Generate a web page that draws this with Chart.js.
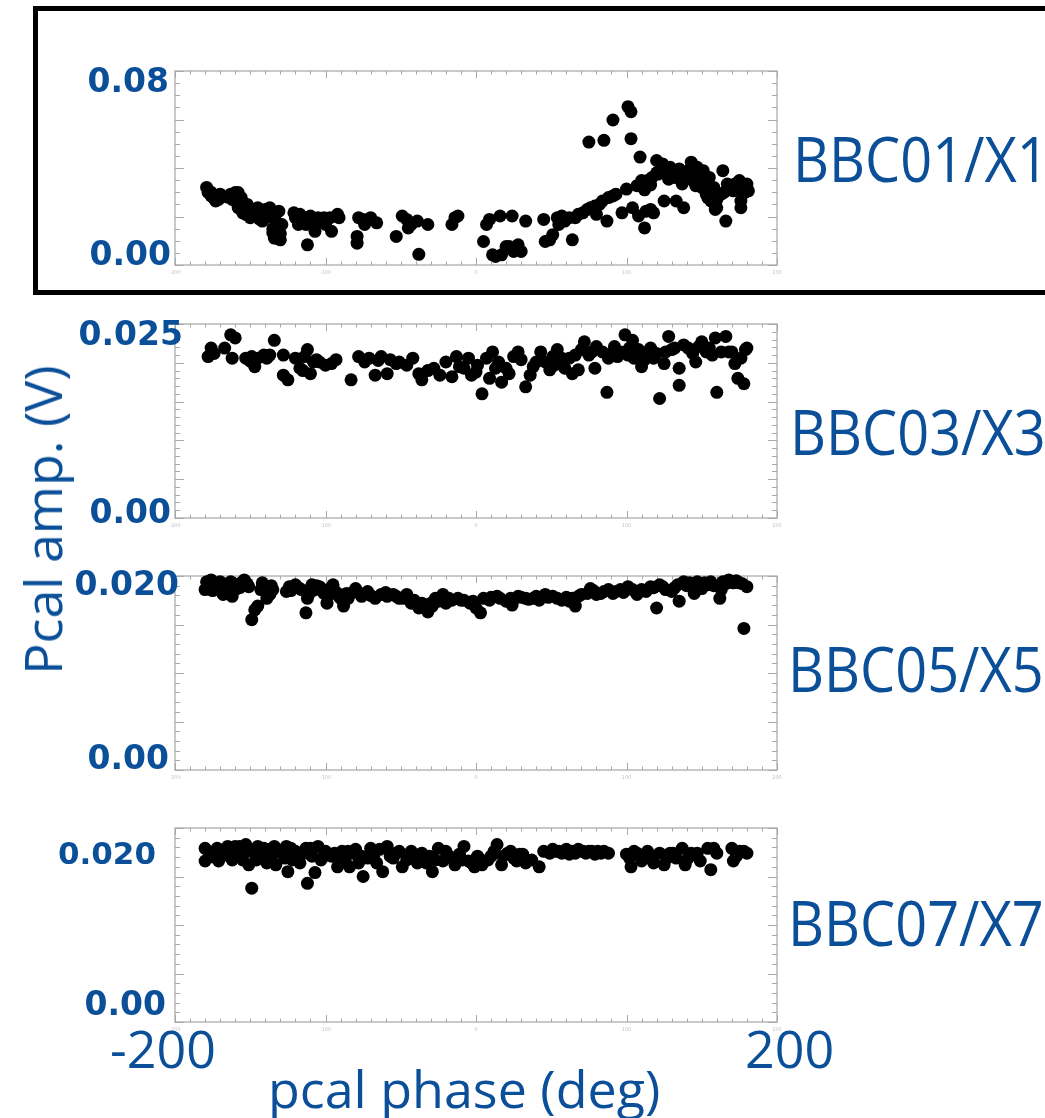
<!DOCTYPE html>
<html>
<head>
<meta charset="utf-8">
<script src="https://cdn.jsdelivr.net/npm/chart.js@4.4.0/dist/chart.umd.min.js"></script>
<style>
  body { margin: 0; background: #fff; }
  #page { position: relative; width: 1045px; height: 1118px; overflow: hidden; }
  .panel { position: absolute; left: 145px; }
  .lab { position: absolute; color: #0b4f99; font-family: "Open Sans", sans-serif; white-space: nowrap; line-height: 1; }
  .bbc { font-size: 62px; transform: scaleX(0.9); transform-origin: left center; }
  .ytk { position: absolute; color: #0b4f99; font-family: "DejaVu Sans", sans-serif; font-weight: bold; font-size: 33px; line-height: 1; text-align: right; width: 140px; }
  #frame { position: absolute; left: 33px; top: 6px; width: 1100px; height: 279px; border: 5px solid #000; }
</style>
</head>
<body>
<div id="page">
  <div id="frame"></div>

  <div class="panel" style="top:56px"><canvas id="c1" width="660" height="224"></canvas></div>
  <div class="panel" style="top:309px"><canvas id="c2" width="660" height="224"></canvas></div>
  <div class="panel" style="top:561px"><canvas id="c3" width="660" height="224"></canvas></div>
  <div class="panel" style="top:813px"><canvas id="c4" width="660" height="224"></canvas></div>

  <!-- big hand-placed axis labels -->
  <div class="ytk" style="left:29px; top:64px">0.08</div>
  <div class="ytk" style="left:31px; top:237px">0.00</div>
  <div class="ytk" style="left:43px; top:317px">0.025</div>
  <div class="ytk" style="left:31px; top:495px">0.00</div>
  <div class="ytk" style="left:39px; top:567px">0.020</div>
  <div class="ytk" style="left:29px; top:741px">0.00</div>
  <div class="ytk" style="left:16px; top:838px; font-size:31px">0.020</div>
  <div class="ytk" style="left:26px; top:987px">0.00</div>

  <div class="lab bbc" style="left:793px; top:127px">BBC01/X1</div>
  <div class="lab bbc" style="left:790px; top:400px">BBC03/X3</div>
  <div class="lab bbc" style="left:788px; top:637px">BBC05/X5</div>
  <div class="lab bbc" style="left:788px; top:891px">BBC07/X7</div>

  <div class="lab" style="left:110px; top:1022px; font-size:52px">-200</div>
  <div class="lab" style="left:745px; top:1022px; font-size:52px">200</div>
  <div class="lab" style="left:268px; top:1062px; font-size:52px">pcal phase (deg)</div>
  <div class="lab" style="left:42px; top:520px; font-size:52px; transform: translate(-50%, -50%) rotate(-90deg);">Pcal amp. (V)</div>
</div>

<script>
// BBC01/X1
var phase1 = [-179,-178,-176,-174,-171,-170,-173,-163,-160,-158,-162,-159,-156,-155,-158,-154,-151,-155,-153,-149,
  -150,-147,-145,-143,-141,-142,-140,-137,-134,-135,-134,-131,-130,-133,-129,-131,-121,-120,-118,-117,
  -114,-113,-112,-110,-108,-107,-105,-104,-101,-100,-97,-96,-92,-91,-79,-79,-78,-75,-74,-70,
  -66,-53,-49,-46,-45,-43,-39,-38,-32,-16,-14,-12,5,7,9,11,13,16,17,20,
  22,24,25,28,30,33,45,46,49,51,54,55,57,59,62,64,66,68,71,74,
  75,76,79,80,82,84,85,87,88,91,91,93,97,100,101,103,103,104,107,108,
  109,110,112,113,114,116,117,118,120,121,122,124,125,126,128,129,130,132,133,134,
  135,137,138,139,141,143,145,146,147,149,150,151,153,154,155,156,158,159,160,163,
  164,166,167,170,171,172,175,176,176,178,180,181,
  -176,-165,-152,-148,-144,-138,-132,-130,-135,120,127,131,136,140,144,148,152,157,160,165,
  168,174,179,116,112];
var amp1 = [0.0320,0.0299,0.0285,0.0275,0.0271,0.0292,0.0264,0.0292,0.0299,0.0299,0.0271,0.0257,0.0278,0.0257,0.0236,0.0250,0.0236,0.0215,0.0209,0.0222,
  0.0195,0.0202,0.0236,0.0202,0.0188,0.0181,0.0229,0.0236,0.0209,0.0132,0.0111,0.0125,0.0104,0.0181,0.0167,0.0222,0.0215,0.0195,0.0167,0.0209,
  0.0195,0.0167,0.0083,0.0202,0.0188,0.0139,0.0195,0.0181,0.0195,0.0167,0.0195,0.0139,0.0209,0.0195,0.0118,0.0090,0.0195,0.0188,0.0167,0.0195,
  0.0174,0.0118,0.0202,0.0188,0.0153,0.0167,0.0181,0.0044,0.0167,0.0167,0.0195,0.0202,0.0097,0.0167,0.0188,0.0042,0.0035,0.0202,0.0042,0.0076,
  0.0076,0.0202,0.0056,0.0083,0.0056,0.0181,0.0188,0.0097,0.0104,0.0125,0.0195,0.0167,0.0202,0.0181,0.0195,0.0104,0.0195,0.0209,0.0215,0.0229,
  0.0507,0.0236,0.0243,0.0209,0.0250,0.0264,0.0514,0.0181,0.0278,0.0285,0.0598,0.0292,0.0215,0.0313,0.0653,0.0632,0.0521,0.0236,0.0327,0.0202,
  0.0445,0.0348,0.0153,0.0222,0.0348,0.0229,0.0361,0.0215,0.0431,0.0375,0.0382,0.0417,0.0264,0.0389,0.0354,0.0403,0.0368,0.0361,0.0264,0.0389,
  0.0396,0.0334,0.0236,0.0361,0.0389,0.0424,0.0375,0.0327,0.0403,0.0368,0.0320,0.0389,0.0292,0.0278,0.0361,0.0264,0.0320,0.0229,0.0236,0.0292,
  0.0389,0.0181,0.0334,0.0313,0.0306,0.0334,0.0348,0.0264,0.0236,0.0320,0.0334,0.0306,
  0.0300,0.0280,0.0250,0.0210,0.0190,0.0200,0.0110,0.0130,0.0150,0.0380,0.0400,0.0380,0.0360,0.0370,0.0350,0.0340,0.0330,0.0300,0.0270,0.0300,
  0.0320,0.0310,0.0300,0.0330,0.0310];

// BBC03/X3
var phase3 = [-178,-176,-167,-163,-160,-162,-153,-149,-147,-145,-141,-137,-134,-128,-128,-125,-120,-117,-114,-112,
  -110,-108,-104,-100,-93,-83,-78,-71,-67,-63,-59,-57,-51,-46,-42,-38,-36,-28,-24,-20,
  -16,-13,-11,-5,-3,1,4,7,9,11,13,17,20,25,28,30,33,36,38,43,
  46,49,51,54,55,59,62,64,66,68,70,72,75,79,80,84,87,88,92,96,
  99,101,104,105,108,110,113,116,118,122,125,126,128,130,135,135,138,141,146,150,
  153,155,159,160,163,166,168,172,174,178,179,180,
  -174,-150,-139,-115,-106,-96,-74,-65,-53,-32,-8,0,15,22,40,52,57,77,90,94,
  102,106,112,115,120,132,144,148,157,170,176];
var amp3 = [0.0208,0.0219,0.0219,0.0236,0.0232,0.0206,0.0206,0.0208,0.0195,0.0206,0.0210,0.0210,0.0229,0.0210,0.0184,0.0178,0.0206,0.0193,0.0208,0.0217,
  0.0186,0.0201,0.0201,0.0197,0.0204,0.0178,0.0208,0.0206,0.0184,0.0208,0.0186,0.0204,0.0201,0.0197,0.0206,0.0186,0.0178,0.0193,0.0184,0.0201,
  0.0182,0.0208,0.0195,0.0206,0.0184,0.0197,0.0160,0.0206,0.0180,0.0214,0.0193,0.0175,0.0193,0.0208,0.0214,0.0204,0.0169,0.0184,0.0195,0.0214,
  0.0201,0.0191,0.0208,0.0217,0.0201,0.0193,0.0206,0.0186,0.0210,0.0191,0.0217,0.0227,0.0210,0.0193,0.0221,0.0214,0.0162,0.0206,0.0221,0.0214,
  0.0236,0.0210,0.0229,0.0206,0.0217,0.0195,0.0212,0.0219,0.0206,0.0154,0.0199,0.0214,0.0234,0.0217,0.0193,0.0171,0.0223,0.0219,0.0201,0.0227,
  0.0214,0.0219,0.0232,0.0162,0.0214,0.0234,0.0214,0.0199,0.0180,0.0173,0.0217,0.0219,
  0.0212,0.0202,0.0206,0.0190,0.0204,0.0199,0.0201,0.0203,0.0199,0.0190,0.0193,0.0188,0.0201,0.0186,0.0201,0.0197,0.0206,0.0214,0.0212,0.0208,
  0.0219,0.0212,0.0204,0.0208,0.0212,0.0219,0.0212,0.0221,0.0210,0.0214,0.0206];

// BBC05/X5
var phase5 = [-180,-179,-176,-174,-172,-170,-168,-166,-163,-162,-159,-156,-154,-151,-149,-147,-145,-143,-142,-139,
  -137,-135,-126,-124,-120,-116,-113,-112,-109,-107,-104,-101,-99,-97,-95,-92,-91,-88,-85,-83,
  -80,-76,-72,-67,-63,-59,-55,-51,-46,-43,-41,-38,-34,-32,-29,-25,-22,-20,-16,-12,
  -8,-4,0,3,5,9,14,20,24,28,33,38,42,46,51,57,62,66,68,74,
  76,80,85,91,96,101,107,110,116,120,122,126,130,134,135,138,142,145,147,150,
  154,156,162,163,164,168,171,175,178,180,
  -178,-175,-169,-165,-161,-157,-152,-140,-138,-136,-123,-118,-110,-106,-102,-98,-94,-90,-86,-78,
  -70,-60,-53,-48,-44,-36,-30,-27,-18,-10,-2,10,16,23,30,35,40,48,54,60,
  64,70,78,83,88,93,98,104,113,118,124,132,140,152,158,166,173,177];
var amp5 = [0.0186,0.0194,0.0196,0.0193,0.0187,0.0194,0.0181,0.0191,0.0194,0.0179,0.0187,0.0193,0.0196,0.0189,0.0155,0.0165,0.0169,0.0186,0.0193,0.0177,
  0.0181,0.0186,0.0184,0.0189,0.0191,0.0186,0.0162,0.0177,0.0191,0.0186,0.0189,0.0182,0.0172,0.0187,0.0191,0.0182,0.0179,0.0169,0.0177,0.0182,
  0.0187,0.0179,0.0184,0.0177,0.0181,0.0179,0.0181,0.0177,0.0181,0.0172,0.0175,0.0167,0.0170,0.0163,0.0169,0.0174,0.0181,0.0172,0.0175,0.0177,
  0.0175,0.0172,0.0167,0.0162,0.0177,0.0175,0.0179,0.0174,0.0170,0.0179,0.0177,0.0177,0.0175,0.0181,0.0179,0.0175,0.0174,0.0169,0.0179,0.0182,
  0.0187,0.0181,0.0184,0.0182,0.0186,0.0189,0.0181,0.0186,0.0189,0.0167,0.0191,0.0186,0.0184,0.0191,0.0174,0.0194,0.0193,0.0182,0.0194,0.0187,
  0.0191,0.0194,0.0177,0.0186,0.0194,0.0196,0.0193,0.0193,0.0146,0.0189,
  0.0190,0.0185,0.0190,0.0185,0.0192,0.0188,0.0192,0.0188,0.0183,0.0190,0.0185,0.0188,0.0183,0.0190,0.0186,0.0180,0.0185,0.0177,0.0182,0.0183,
  0.0180,0.0183,0.0179,0.0177,0.0175,0.0172,0.0172,0.0177,0.0177,0.0175,0.0174,0.0178,0.0177,0.0177,0.0178,0.0176,0.0179,0.0178,0.0177,0.0178,
  0.0177,0.0181,0.0185,0.0182,0.0186,0.0184,0.0183,0.0186,0.0184,0.0188,0.0189,0.0188,0.0190,0.0193,0.0190,0.0192,0.0195,0.0192];

// BBC07/X7
var phase7 = [-180,-180,-172,-171,-167,-164,-160,-158,-155,-153,-151,-149,-147,-145,-142,-139,-137,-134,-133,-129,
  -126,-125,-122,-120,-117,-113,-112,-109,-107,-105,-103,-100,-96,-92,-89,-87,-84,-82,-78,-75,
  -72,-70,-66,-62,-59,-55,-51,-49,-46,-43,-39,-36,-33,-29,-25,-22,-18,-14,-11,-8,
  -5,-1,1,4,8,12,14,17,21,25,29,33,37,42,49,53,57,62,66,71,
  75,79,83,88,100,103,107,110,114,118,122,125,129,133,137,139,143,149,154,156,
  160,170,171,175,180,
  -177,-174,-169,-165,-162,-157,-150,-146,-141,-136,-131,-127,-123,-118,-115,-110,-101,-94,-90,-85,
  -80,-76,-68,-64,-57,-53,-41,-31,-27,-20,-16,-9,-3,3,10,18,23,27,31,45,
  51,55,60,64,68,73,77,81,85,102,105,112,116,127,131,141,147,158,173,178];
var amp7 = [0.0179,0.0166,0.0179,0.0166,0.0178,0.0171,0.0181,0.0174,0.0167,0.0183,0.0162,0.0138,0.0174,0.0181,0.0171,0.0164,0.0178,0.0181,0.0162,0.0174,
  0.0181,0.0155,0.0167,0.0176,0.0164,0.0179,0.0143,0.0171,0.0154,0.0181,0.0167,0.0176,0.0171,0.0160,0.0176,0.0167,0.0160,0.0174,0.0164,0.0150,
  0.0169,0.0179,0.0164,0.0155,0.0181,0.0169,0.0176,0.0160,0.0167,0.0176,0.0164,0.0174,0.0164,0.0155,0.0179,0.0166,0.0171,0.0162,0.0173,0.0181,
  0.0166,0.0160,0.0171,0.0162,0.0167,0.0176,0.0183,0.0162,0.0174,0.0169,0.0173,0.0164,0.0167,0.0160,0.0174,0.0176,0.0174,0.0173,0.0174,0.0176,
  0.0176,0.0173,0.0174,0.0174,0.0173,0.0160,0.0174,0.0166,0.0176,0.0164,0.0174,0.0162,0.0174,0.0169,0.0179,0.0162,0.0174,0.0166,0.0179,0.0157,
  0.0174,0.0179,0.0166,0.0176,0.0174,
  0.0175,0.0170,0.0175,0.0181,0.0167,0.0181,0.0176,0.0167,0.0179,0.0169,0.0176,0.0169,0.0179,0.0171,0.0174,0.0179,0.0171,0.0174,0.0167,0.0176,
  0.0178,0.0171,0.0171,0.0178,0.0171,0.0174,0.0169,0.0171,0.0167,0.0176,0.0169,0.0167,0.0164,0.0167,0.0171,0.0171,0.0176,0.0166,0.0173,0.0176,
  0.0178,0.0176,0.0178,0.0176,0.0178,0.0174,0.0176,0.0176,0.0176,0.0169,0.0176,0.0171,0.0169,0.0169,0.0174,0.0169,0.0174,0.0179,0.0171,0.0176];

// axis ranges and tick steps, one per panel
var yMax   = [0.08, 0.025, 0.02, 0.02];
var yMajor = [0.02, 0.005, 0.005, 0.005];
var yMinor = [0.005, 0.001, 0.001, 0.001];
var xTickLabels = ['-200', '-100', '0', '100', '200'];

// IDL-style box with inward ticks on all four sides
var idlBox = {
  id: 'idlBox',
  beforeDatasetsDraw: function(chart) {
    var ctx = chart.ctx, a = chart.chartArea;
    var xs = chart.scales.x, ys = chart.scales.y;
    var o = chart.options.plugins.idlBox;
    ctx.save();
    ctx.strokeStyle = '#b8b8b8';
    ctx.lineWidth = 1.5;
    ctx.strokeRect(a.left, a.top, a.right - a.left, a.bottom - a.top);

    ctx.lineWidth = 1;
    ctx.strokeStyle = '#a8a8a8';
    ctx.beginPath();
    // x ticks every 10 deg, major every 100
    for (var i = 0; i <= 40; i++) {
      var px = Math.round(xs.getPixelForValue(-200 + i * 10)) + 0.5;
      var len = (i % 10 === 0) ? 7 : 3.5;
      ctx.moveTo(px, a.bottom); ctx.lineTo(px, a.bottom - len);
      ctx.moveTo(px, a.top); ctx.lineTo(px, a.top + len);
    }
    var n = Math.round(o.max / o.minor), every = Math.round(o.major / o.minor);
    for (var j = 0; j <= n; j++) {
      var py = Math.round(ys.getPixelForValue(j * o.minor)) + 0.5;
      var l2 = (j % every === 0) ? 9 : 5;
      ctx.moveTo(a.left, py); ctx.lineTo(a.left + l2, py);
      ctx.moveTo(a.right, py); ctx.lineTo(a.right - l2, py);
    }
    ctx.stroke();

    // tiny original tick labels
    ctx.fillStyle = '#c4c4c4';
    ctx.font = '5px "DejaVu Sans"';
    ctx.textAlign = 'center';
    for (var k = 0; k < xTickLabels.length; k++) {
      ctx.fillText(xTickLabels[k], xs.getPixelForValue(-200 + k * 100), a.bottom + 9);
    }
    ctx.restore();
  }
};

function makePanel(id, xs, ys, idx) {
  var pts = xs.map(function(v, i) { return { x: v, y: ys[i] }; });
  return new Chart(document.getElementById(id), {
    type: 'scatter',
    data: {
      datasets: [{
        data: pts,
        backgroundColor: '#000',
        borderWidth: 0,
        pointRadius: 6.5,
        clip: false
      }]
    },
    options: {
      responsive: false,
      animation: false,
      layout: { padding: { left: 30, right: 28, top: 15, bottom: 15 } },
      scales: {
        x: { type: 'linear', min: -200, max: 200, display: false },
        y: { type: 'linear', min: 0, max: yMax[idx], display: false }
      },
      plugins: {
        legend: { display: false },
        tooltip: { enabled: false },
        idlBox: { max: yMax[idx], major: yMajor[idx], minor: yMinor[idx] }
      }
    },
    plugins: [idlBox]
  });
}

makePanel('c1', phase1, amp1, 0);
makePanel('c2', phase3, amp3, 1);
makePanel('c3', phase5, amp5, 2);
makePanel('c4', phase7, amp7, 3);
</script>
</body>
</html>
